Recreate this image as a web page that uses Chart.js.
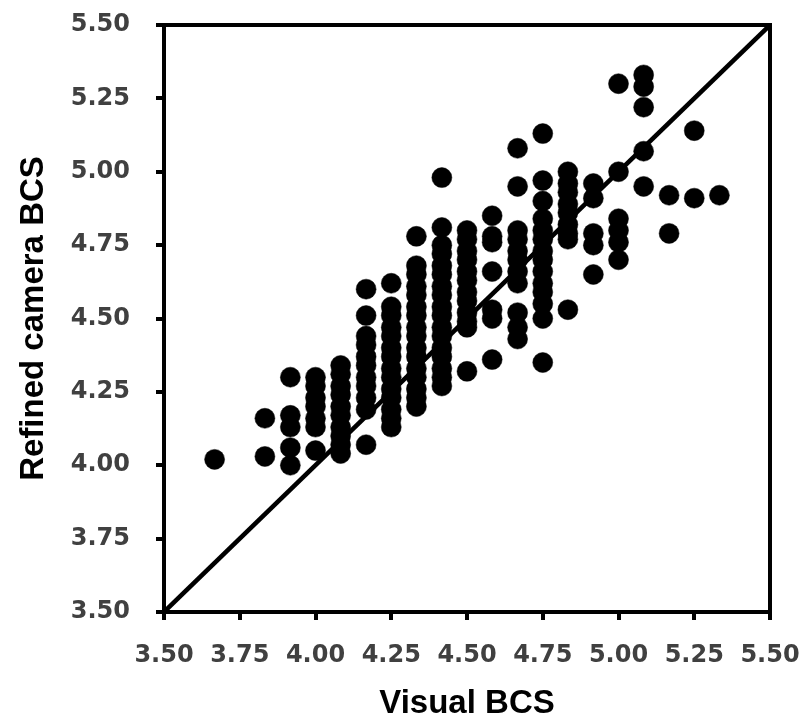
<!DOCTYPE html>
<html>
<head>
<meta charset="utf-8">
<script src="https://cdn.jsdelivr.net/npm/chart.js@4.4.1/dist/chart.umd.min.js"></script>
<style>
  html, body { margin: 0; padding: 0; background: #fff; }
  #wrap { width: 803px; height: 724px; }
</style>
</head>
<body>
<div id="wrap"><canvas id="bcs" width="803" height="724"></canvas></div>
<script>
// Visual BCS levels (x) and the refined camera BCS values seen at each level (y)
const visualLevels = [3.667, 3.833, 3.917, 4.0, 4.083, 4.167, 4.25, 4.333, 4.417, 4.5,
  4.583, 4.667, 4.75, 4.833, 4.917, 5.0, 5.083, 5.167, 5.25, 5.333];

const cameraAt = [
  [4.02],
  [4.16, 4.03],
  [4.30, 4.17, 4.13, 4.06, 4.00],
  [4.30, 4.27, 4.23, 4.20, 4.16, 4.13, 4.05],
  [4.34, 4.31, 4.27, 4.24, 4.20, 4.17, 4.13, 4.10, 4.07, 4.04],
  [4.60, 4.51, 4.44, 4.41, 4.37, 4.34, 4.30, 4.27, 4.23, 4.19, 4.07],
  [4.62, 4.54, 4.51, 4.47, 4.44, 4.40, 4.37, 4.33, 4.30, 4.26, 4.23, 4.19, 4.16, 4.13],
  [4.78, 4.68, 4.65, 4.61, 4.58, 4.54, 4.51, 4.47, 4.44, 4.40, 4.37, 4.33, 4.30, 4.26, 4.23, 4.20],
  [4.98, 4.81, 4.75, 4.72, 4.68, 4.65, 4.61, 4.58, 4.54, 4.51, 4.47, 4.44, 4.40, 4.37, 4.33, 4.30, 4.27],
  [4.80, 4.77, 4.73, 4.70, 4.66, 4.63, 4.59, 4.56, 4.52, 4.49, 4.47, 4.32],
  [4.85, 4.78, 4.76, 4.66, 4.53, 4.50, 4.36],
  [5.08, 4.95, 4.80, 4.77, 4.73, 4.70, 4.66, 4.62, 4.52, 4.47, 4.43],
  [5.13, 4.97, 4.90, 4.84, 4.80, 4.77, 4.73, 4.70, 4.66, 4.62, 4.59, 4.55, 4.50, 4.35],
  [5.00, 4.96, 4.93, 4.89, 4.86, 4.82, 4.79, 4.77, 4.53],
  [4.96, 4.91, 4.79, 4.75, 4.65],
  [5.30, 5.00, 4.84, 4.80, 4.76, 4.70],
  [5.33, 5.29, 5.22, 5.07, 4.95],
  [4.92, 4.79],
  [5.14, 4.91],
  [4.92]
];

// 1:1 reference line ends
const lineEnds = [3.5, 5.5];

const points = [];
visualLevels.forEach((x, i) => {
  cameraAt[i].forEach(y => points.push({ x: x, y: y }));
});

const tickFont = { family: "'DejaVu Sans', sans-serif", size: 24, weight: 'bold' };
const titleFont = { family: "'Liberation Sans Narrow', 'Liberation Sans', sans-serif", size: 33, weight: 'bold' };
const fmt = v => Number(v).toFixed(2);

const frame = {
  type: 'linear', min: 3.5, max: 5.5,
  ticks: { display: false, stepSize: 0.25 },
  grid: { display: false, drawTicks: false },
  border: { display: true, color: '#000', width: 4 }
};

new Chart(document.getElementById('bcs'), {
  type: 'scatter',
  data: {
    datasets: [
      {
        data: points,
        backgroundColor: '#000',
        borderColor: '#000',
        borderWidth: 0.5,
        pointRadius: 10,
        order: 2
      },
      {
        type: 'line',
        data: lineEnds.map(v => ({ x: v, y: v })),
        borderColor: '#000',
        borderWidth: 4.5,
        pointRadius: 0,
        fill: false,
        order: 1
      }
    ]
  },
  options: {
    responsive: false,
    animation: false,
    layout: { padding: { left: 14, right: 33, top: 25, bottom: 0 } },
    plugins: { legend: { display: false }, tooltip: { enabled: false } },
    scales: {
      x: {
        type: 'linear', position: 'bottom', min: 3.5, max: 5.5,
        ticks: { stepSize: 0.25, color: '#404040', font: tickFont, padding: 21, callback: fmt, maxRotation: 0 },
        grid: { drawOnChartArea: false, drawTicks: true, tickLength: 8, lineWidth: 4, color: '#000' },
        border: { display: true, color: '#000', width: 4 },
        title: { display: true, text: 'Visual BCS', color: '#000', font: titleFont, padding: { top: 0, bottom: 0 } },
        afterFit: s => { s.height = 112; s.paddingLeft = 0; s.paddingRight = 0; }
      },
      y: {
        type: 'linear', position: 'left', min: 3.5, max: 5.5,
        ticks: { stepSize: 0.25, color: '#404040', font: tickFont, padding: 26, callback: fmt },
        grid: { drawOnChartArea: false, drawTicks: true, tickLength: 8, lineWidth: 4, color: '#000' },
        border: { display: true, color: '#000', width: 4 },
        title: { display: true, text: 'Refined camera BCS', color: '#000', font: titleFont, padding: { top: 0, bottom: 0 } },
        afterFit: s => { s.width = 150; s.paddingTop = 0; s.paddingBottom = 0; }
      },
      xTop: Object.assign({}, frame, { position: 'top' }),
      yRight: Object.assign({}, frame, { position: 'right' })
    }
  }
});
</script>
</body>
</html>
